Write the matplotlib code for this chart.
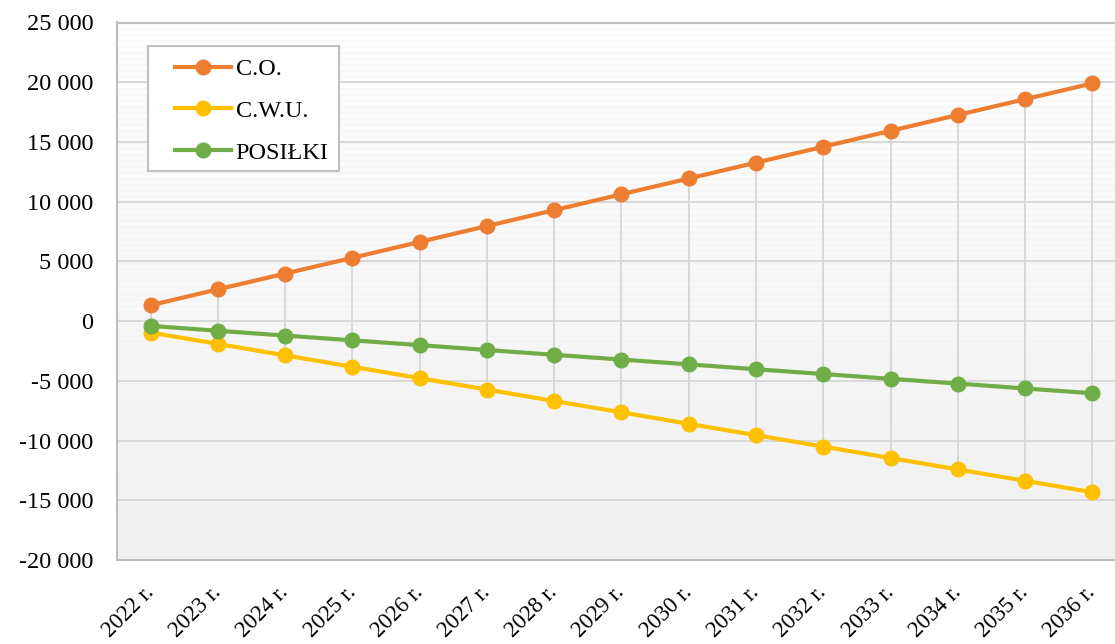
import matplotlib
matplotlib.use('Agg')
import matplotlib.pyplot as plt
from matplotlib.ticker import FuncFormatter, MultipleLocator
from matplotlib.patches import Rectangle
import numpy as np

years = ['2022 r.', '2023 r.', '2024 r.', '2025 r.', '2026 r.', '2027 r.', '2028 r.',
         '2029 r.', '2030 r.', '2031 r.', '2032 r.', '2033 r.', '2034 r.', '2035 r.', '2036 r.']
co = [1330, 2660, 3980, 5300, 6630, 7960, 9290, 10620, 11940, 13270, 14600,
      15930, 17260, 18580, 19900]
cwu = [-960, -1910, -2870, -3820, -4780, -5730, -6690, -7640, -8600, -9550, -10510,
       -11460, -12420, -13370, -14330]
posilki = [-400, -810, -1210, -1610, -2010, -2420, -2820, -3220, -3620, -4030, -4430,
           -4830, -5230, -5640, -6040]

plt.rcParams['font.family'] = ['Liberation Serif', 'DejaVu Serif']

W, H = 1115, 644
fig = plt.figure(figsize=(W / 100, H / 100), dpi=100)
ax = fig.add_axes([117 / W, 84 / H, (1126 - 117) / W, (560 - 22.5) / H])

# background: light gradient with fine stripes fading out
n = 537
t = np.linspace(0, 1, n)
base = 1.0 - 0.058 * t
stripe = ((np.arange(n) % 6) < 2) * 0.022 * (1 - t)
col = np.clip(base - stripe, 0, 1)
img = np.repeat(col[:, None], 4, axis=1)
ax.imshow(np.dstack([img, img, img]), extent=[0, 1, 0, 1], transform=ax.transAxes,
          aspect='auto', zorder=-2, interpolation='nearest')

x = np.arange(len(years))
hi = np.maximum.reduce([co, cwu, posilki])
lo = np.minimum.reduce([co, cwu, posilki])
ax.vlines(x, lo, hi, color='#d3d3d3', lw=1.2, zorder=1)

ax.plot(x, co, '-o', color='#ED7D31', lw=3, ms=10.5, label='C.O.', zorder=3)
ax.plot(x, cwu, '-o', color='#FFC000', lw=3, ms=10.5, label='C.W.U.', zorder=3)
ax.plot(x, posilki, '-o', color='#70AD47', lw=3, ms=10.5, label='POSIŁKI', zorder=3)

ax.set_xlim(-0.5, len(years) - 0.5)
ax.set_ylim(-20000, 25000)
ax.yaxis.set_major_locator(MultipleLocator(5000))
ax.yaxis.set_major_formatter(FuncFormatter(lambda v, p: '{:,}'.format(int(v)).replace(',', ' ')))
ax.grid(axis='y', color='#d6d6d6', lw=1.3)
ax.set_axisbelow(True)
ax.set_xticks(x)
ax.set_xticklabels(years, rotation=45, ha='right', va='center', rotation_mode='anchor')
ax.tick_params(axis='x', length=0, pad=21, labelsize=16.5)
ax.tick_params(axis='y', length=0, pad=17, labelsize=17.5)

for s in ['left', 'bottom', 'top']:
    ax.spines[s].set_color('#bfbfbf')
    ax.spines[s].set_linewidth(1.5)
ax.spines['right'].set_visible(False)

# legend with its own frame
fig.patches.append(Rectangle((148 / W, 1 - 171 / H), (339 - 148) / W, (171 - 46) / H,
                             transform=fig.transFigure, facecolor='white',
                             edgecolor='#bfbfbf', lw=1.5, zorder=4))
leg = fig.legend(loc='upper left', bbox_to_anchor=(175 / W, 1 - 58 / H), frameon=False,
                 fontsize=17.5, handlelength=2.3, handletextpad=0.2, labelspacing=0.82,
                 borderpad=0, borderaxespad=0)
leg.set_zorder(5)

fig.savefig('out.png', dpi=100)
